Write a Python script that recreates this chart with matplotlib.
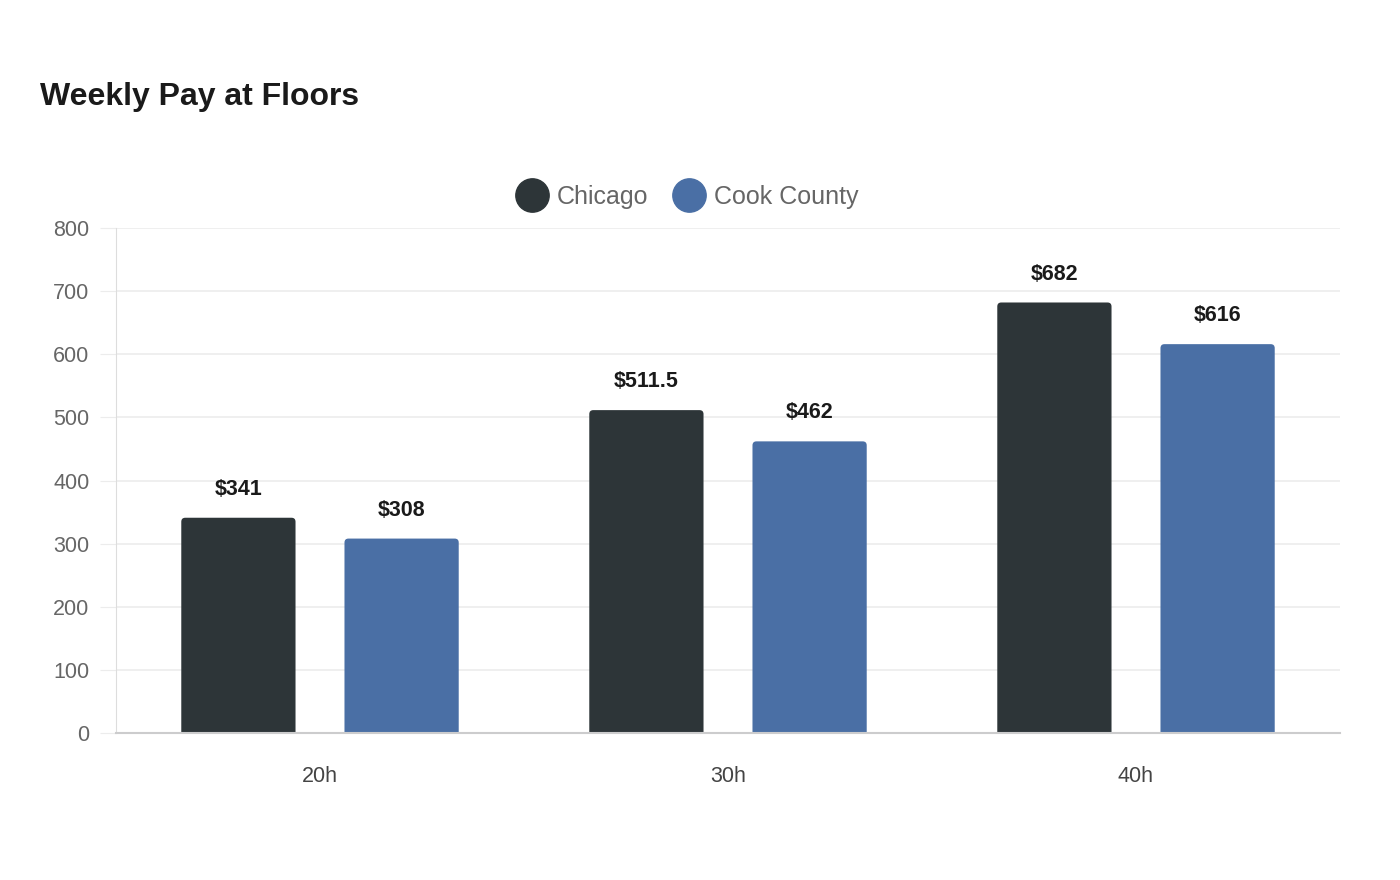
import matplotlib
matplotlib.use('Agg')
import matplotlib.pyplot as plt
import numpy as np
from matplotlib.patches import FancyBboxPatch
from matplotlib.lines import Line2D

plt.rcParams['font.family'] = ['Liberation Sans', 'DejaVu Sans']

# data
categories = ['20h', '30h', '40h']
series_names = ['Chicago', 'Cook County']
chicago = [341, 511.5, 682]
cook_county = [308, 462, 616]
colors = ['#2d3538', '#4a6fa5']

fig = plt.figure(figsize=(14, 8.8), dpi=100)
ax = fig.add_axes([116 / 1400, 1 - 733 / 880, 1224 / 1400, 505 / 880])

x = np.arange(len(categories))
width = 0.28
offsets = [-0.2, 0.2]

# rounded-top bars: draw with ax.bar, then swap in rounded patches
px_x = 1224 / 3.0          # pixels per x unit
px_y = 505 / 800.0         # pixels per y unit
r = 4 / px_x
aspect = (4 / px_y) / r
for vals, off, col in zip([chicago, cook_county], offsets, colors):
    bars = ax.bar(x + off, vals, width, color=col, zorder=2)
    for b, v in zip(bars, vals):
        b.set_visible(False)
        p = FancyBboxPatch((b.get_x(), -20), b.get_width(), b.get_height() + 20,
                           boxstyle='round,pad=0,rounding_size=%f' % r,
                           mutation_aspect=aspect, fc=col, ec='none', zorder=2)
        ax.add_patch(p)
        lbl = '$%g' % v
        ax.annotate(lbl, (b.get_x() + b.get_width() / 2, v), xytext=(0, 20.5),
                    textcoords='offset points', ha='center', va='center',
                    fontsize=15.5, fontweight='bold', color='#1a1a1a')

ax.set_xlim(-0.5, 2.5)
ax.set_ylim(0, 800)
ax.set_yticks(range(0, 801, 100))
ax.set_xticks(x)
ax.set_xticklabels(categories)
ax.grid(axis='y', color='#ececec', linewidth=1.2, zorder=0)
ax.tick_params(axis='y', length=11.5, color='#ececec', labelsize=15.5,
               labelcolor='#666666', pad=7.5)
ax.tick_params(axis='x', length=0, labelsize=15.5, labelcolor='#444444', pad=24)
for s in ['top', 'right']:
    ax.spines[s].set_visible(False)
ax.spines['left'].set_color('#dddddd')
ax.spines['left'].set_linewidth(0.8)
ax.spines['bottom'].set_color('#cccccd')
ax.spines['bottom'].set_linewidth(1.5)

fig.text(40 / 1400, 1 - 97 / 880, 'Weekly Pay at Floors', fontsize=23,
         fontweight='bold', color='#1a1a1a', va='center', ha='left')

handles = [Line2D([], [], marker='o', linestyle='none', markersize=24,
                  markerfacecolor=c, markeredgecolor=c) for c in colors]
leg = fig.legend(handles, series_names, loc='center',
                 bbox_to_anchor=(687 / 1400, 1 - 197 / 880), ncol=2,
                 frameon=False, fontsize=18, handletextpad=0.35,
                 columnspacing=1.0, handlelength=1.3)
for t in leg.get_texts():
    t.set_color('#666666')

fig.savefig('out.png', dpi=100)
